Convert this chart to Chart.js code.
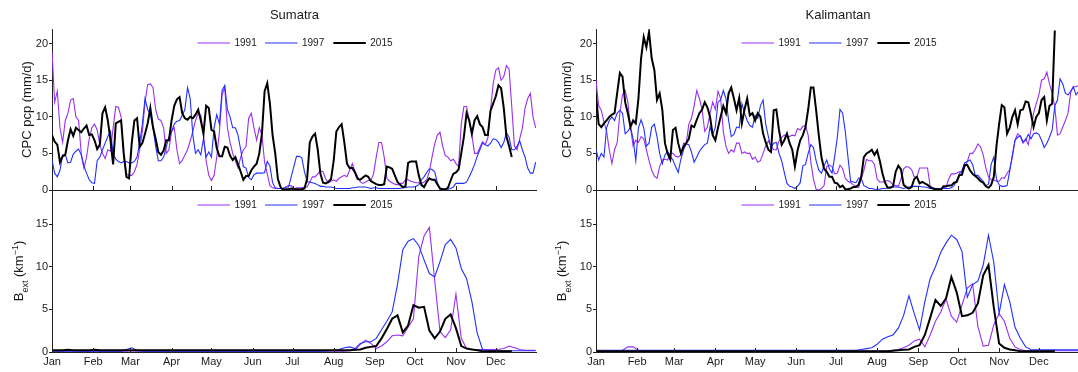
<!DOCTYPE html>
<html>
<head>
<meta charset="utf-8">
<script src="https://cdn.jsdelivr.net/npm/chart.js@4.4.1/dist/chart.umd.min.js"></script>
<style>
  body { margin: 0; background: #fff; width: 1078px; height: 372px; overflow: hidden; position: relative; }
  canvas { position: absolute; }
</style>
</head>
<body>
<canvas id="sumTop" width="537" height="200" style="left:0;top:0"></canvas>
<canvas id="kalTop" width="537" height="200" style="left:543px;top:0"></canvas>
<canvas id="sumBot" width="537" height="192" style="left:0;top:180px"></canvas>
<canvas id="kalBot" width="537" height="192" style="left:543px;top:180px"></canvas>
<script>
// day of year of the samples: precipitation every 2nd day, extinction every 4th day
const pcpDays = [0,2,4,6,8,10,12,14,16,18,20,22,24,26,28,30,32,34,36,38,
  40,42,44,46,48,50,52,54,56,58,60,62,64,66,68,70,72,74,76,78,
  80,82,84,86,88,90,92,94,96,98,100,102,104,106,108,110,112,114,116,118,
  120,122,124,126,128,130,132,134,136,138,140,142,144,146,148,150,152,154,156,158,
  160,162,164,166,168,170,172,174,176,178,180,182,184,186,188,190,192,194,196,198,
  200,202,204,206,208,210,212,214,216,218,220,222,224,226,228,230,232,234,236,238,
  240,242,244,246,248,250,252,254,256,258,260,262,264,266,268,270,272,274,276,278,
  280,282,284,286,288,290,292,294,296,298,300,302,304,306,308,310,312,314,316,318,
  320,322,324,326,328,330,332,334,336,338,340,342,344,346,348,350,352,354,356,358,
  360,362,364];
// 2015 record stops mid December
const pcpDays2015 = [0,2,4,6,8,10,12,14,16,18,20,22,24,26,28,30,32,34,36,38,
  40,42,44,46,48,50,52,54,56,58,60,62,64,66,68,70,72,74,76,78,
  80,82,84,86,88,90,92,94,96,98,100,102,104,106,108,110,112,114,116,118,
  120,122,124,126,128,130,132,134,136,138,140,142,144,146,148,150,152,154,156,158,
  160,162,164,166,168,170,172,174,176,178,180,182,184,186,188,190,192,194,196,198,
  200,202,204,206,208,210,212,214,216,218,220,222,224,226,228,230,232,234,236,238,
  240,242,244,246,248,250,252,254,256,258,260,262,264,266,268,270,272,274,276,278,
  280,282,284,286,288,290,292,294,296,298,300,302,304,306,308,310,312,314,316,318,
  320,322,324,326,328,330,332,334,336,338,340,342,344,346];
const bextDays = [0,4,8,12,16,20,24,28,32,36,40,44,48,52,56,60,64,68,72,76,80,84,88,92,96,100,104,108,112,116,120,124,128,132,136,140,144,148,152,156,160,164,168,172,176,180,184,188,192,196,200,204,208,212,216,220,224,228,232,236,240,244,248,252,256,260,264,268,272,276,280,284,288,292,296,300,304,308,312,316,320,324,328,332,336,340,344,348,352,356,360,364];
const bextDays2015 = [0,4,8,12,16,20,24,28,32,36,40,44,48,52,56,60,64,68,72,76,80,84,88,92,96,100,104,108,112,116,120,124,128,132,136,140,144,148,152,156,160,164,168,172,176,180,184,188,192,196,200,204,208,212,216,220,224,228,232,236,240,244,248,252,256,260,264,268,272,276,280,284,288,292,296,300,304,308,312,316,320,324,328,332,336,340,344,346];

const years = ['1991', '1997', '2015'];
const monthTicks = [0, 31, 59, 90, 120, 151, 181, 212, 243, 273, 304, 334];
const monthNames = ['Jan','Feb','Mar','Apr','May','Jun','Jul','Aug','Sep','Oct','Nov','Dec'];
const pcpTicks = [0, 5, 10, 15, 20];
const bextTicks = [0, 5, 10, 15];

// Sumatra, CPC precipitation (mm/d)
const sumPcp1991 = [19,12,13.5,8.5,6.5,9.5,10.5,12.3,12.5,10,
  9.5,5,3,4.5,7,8.5,9,8.2,6.2,5,
  4.3,5.5,5.3,8.5,11.4,11.3,10,4.5,2.2,2,
  2,2.5,3.5,5.5,8,12,14.4,14.5,14,11,
  9.7,9.5,8.5,5,5.5,8,8.5,5.5,3.6,4,
  4.8,5.5,6.7,8,9.5,10.5,10.2,7.5,4,2,
  1.3,2,4.5,8,13,14,8.5,6.5,5,4,
  3,4.5,5.5,5.9,9.8,10.5,8.5,6.8,8.5,7.5,
  3.8,2.2,0.6,0.3,0.2,0.2,0.2,0.2,0.4,0.6,
  0.6,0.2,0.3,0.3,0.3,0.4,0.4,1.1,1.8,1.8,
  2.2,2.6,2.5,1.5,1.0,1.2,1.4,1.2,1.6,1.8,
  2.0,1.8,2.7,3.6,2.6,1.8,1.1,0.9,1.1,1.3,
  1.3,2.2,4.5,6.5,6.5,4.5,1.6,1.2,1.0,0.8,
  0.7,0.9,0.9,1.4,1.4,1.2,1.1,1.0,1.0,0.9,
  1.1,1.4,2.5,4.5,6.3,7.5,7.9,6,4.7,4.5,
  4.0,4.2,3.6,3.2,9,11.4,11.4,9.5,7.5,5,
  5,5.8,6.6,6.2,7.1,10.9,14.5,16.4,16.7,15,
  15.5,17,16.5,11.4,6,5.5,7,8.5,11.2,12.5,
  13.2,10,8.5];
const sumPcp1997 = [4.1,2.3,1.8,2.7,4.8,4.8,3.7,3.8,4.9,5.3,
  5.6,4.8,3.3,2.3,1.4,1.0,0.9,4.0,4.5,5.5,
  6.4,7.3,8.0,5,4.2,3.9,3.7,3.9,3.9,3.7,
  3.7,3.9,4.5,6.4,9,12.5,11,10.4,8.5,6,
  4,4,4.5,5.9,7.2,8,9,9.4,9.5,10.2,
  11,14,12.5,7.5,5,5.5,4.8,7,4.5,5.2,
  4.5,8.5,10.3,9,13.6,14.3,11,10,8.5,8.5,
  7.5,5.5,3.2,3,1.7,1.4,2.1,2.3,2.3,2.3,
  2.4,3.9,3.3,1.0,0.3,0.2,0.2,0.2,0.4,0.4,
  1.8,3.2,4.6,4.6,4.4,2.5,1.1,1.1,1.0,0.9,
  0.7,0.5,0.5,0.4,0.4,0.4,0.3,0.2,0.2,0.2,
  0.2,0.2,0.2,0.3,0.3,0.4,0.4,0.4,0.4,0.3,
  0.2,0.3,0.3,0.2,0.2,0.2,0.2,0.2,0.2,0.2,
  0.2,0.2,0.3,0.3,0.4,0.4,0.4,0.5,0.7,1.4,
  1.8,2.4,2.9,2.8,2.5,1.0,0.1,0.1,0.1,0.1,
  0.2,0.4,0.9,0.9,0.9,0.9,1.1,1.8,2.6,3.5,
  4.6,5.5,6.4,6.2,6.0,6.4,7.0,6.9,6.5,5.8,
  6.5,7.8,7.2,5.5,5.5,6.0,6.7,5.5,4.5,3.0,
  2.3,2.3,3.8];
const sumPcp2015 = [7.5,6.6,6.2,3.8,4.6,4.8,6.8,8.3,7.4,8.5,
  8.2,7.9,8.4,8.8,7.5,7.6,6.8,5.6,6.2,10.5,
  11.3,9.5,6.8,3.5,9.1,9.3,9.5,5,1.8,1.6,
  6.4,9.5,9.8,5.9,6.4,7.7,9.1,11.2,8.6,7,
  5.2,4.8,5.4,6.8,6.8,9.5,11.5,12.4,12.7,10.5,
  9.8,9.6,10,9.8,10.3,11,9.5,7.7,11.5,11.2,
  8.2,8,5.7,4.6,4.6,5.9,5.8,4.7,4.1,4.5,
  3.5,2.5,1.4,1.9,1.9,2.7,3.2,3.6,5,7.7,
  13.5,14.6,11.8,7.5,5,1.5,0.4,0,0.1,0.1,
  0.2,0.1,0.1,0.1,0.1,0.2,1.5,6.5,7.3,7.7,
  5.5,2.2,1,0.9,1.1,1.5,4,8,8.6,9,
  6.5,3.6,3,3.0,2.4,1.5,1.4,1.7,2,1.8,
  1.2,1.0,0.8,0.7,0.7,0.8,3.2,3.1,2.9,2,
  1.1,0.7,0.4,0.5,3.7,3.9,3.9,3.9,2,0.7,
  0.4,1.1,1.6,1.4,1.4,0.8,0.2,0.1,0.1,0.3,
  1.3,2.2,2.4,2.8,5,7.3,10.5,9.5,7.7,9.5,
  10.1,9.0,8.6,7.5,7.5,10.8,11.8,12.8,14.3,13.9,
  11.2,7.3,6,4.5];

// Kalimantan, CPC precipitation (mm/d)
const kalPcp1991 = [15,11.5,10.9,9.3,8,5.5,3.6,5.5,6.5,10.5,
  13,13.6,12,8.6,6,6.8,6.5,7.3,7,5.5,
  4,2.7,1.9,1.6,3.2,4.1,4.2,4.1,5,5,
  4.6,4.5,4.8,6.4,6.3,9,9.8,11.5,13.6,12.5,
  11,8,8.6,10.5,12,11,13.5,12.5,8,6,
  5,5.5,5.2,6.4,6.4,5,5.2,5,5,4.2,
  4.5,3.8,4,5,6,6.7,6,5.5,5.5,6.7,
  7.2,7.5,7.4,7.3,7.5,7.4,8.4,8.2,8.7,8.8,
  7.5,3.8,1.5,0.1,0,0.2,0.6,3.2,3.4,3.2,
  2.2,2.3,3.4,2.9,1.6,1.2,1.0,0.7,0.5,0.3,
  1.5,2.7,4.2,4,4,3.5,1.5,1.1,1.1,1.2,
  1.3,1.1,0.7,0.6,0.5,1.5,2.9,3.2,3.1,2.8,
  1.8,1.8,3,3,3,3,0.5,0.3,0.2,0.1,
  0.1,0.3,0.4,1.5,2.2,2.2,2.3,2.5,2.4,3.1,
  3.9,5,5,5.5,6.3,5.9,4.8,3,1.8,1.4,
  1.4,1.2,1.2,1.7,1.6,2.3,2.8,4.5,6.8,7.7,
  7.3,6.4,7,6.2,8.2,10.5,11.8,13,15,15.2,
  16.1,14.5,13.2,11.4,7.5,7.7,8.6,9.5,10.5,13.4,
  14.1,14.1,14.3];
const kalPcp1997 = [5.5,4.1,5,4.5,8.5,9.5,10,9.5,10.5,10.9,
  10.5,7.7,8,8.6,7,4,8.5,9.6,8.5,6,
  6.4,8.6,9,7.3,5,3.6,4.8,5.3,4.6,4.1,
  3.2,2.4,4.2,5.5,6.3,6.2,5.2,3.8,4.5,5.3,
  5.8,6.2,6.4,8.6,7.5,8.6,12,12.3,13.6,12.5,
  9.5,7.3,7.6,8.6,8.5,11.8,10.5,9.5,8.8,8.6,
  10.2,9.8,11.5,12.3,9,7.3,5.8,6.4,6.5,5,
  4,2.4,0.9,0.5,0.4,0.2,0.5,1,3.3,3.5,
  5,6.2,5.8,4,2.7,2.3,3.3,4.1,2.9,2.3,
  4.6,7.2,11,10.5,8,4.5,1.2,1.1,1,1.6,
  1.6,0.6,0.4,0.2,0.2,0.1,0.1,0.1,0.2,0.2,
  0.3,0.4,0.4,0.4,0.4,0.3,0.2,0.3,0.4,0.5,
  0.5,0.5,0.5,0.4,0.4,0.3,0.2,0.2,0.2,0.2,
  0.2,0.2,0.2,0.2,0.3,0.6,1.3,2.2,2.7,3.7,
  3.9,4.1,3.5,2,2,1.6,1.2,0.6,0.8,3.5,
  4.5,1.5,0.7,0.5,0.5,0.6,2.6,4.8,6.8,7.2,
  7.4,6.6,6.8,7.6,7,7.7,7.8,7.6,6.8,5.8,
  6.4,7.2,8.2,11.5,12.3,15.2,14.5,13.2,13,13.5,
  14.1,13,13.5];
const kalPcp2015 = [13,9,8.6,9.1,9.5,10,10.3,10.5,13.3,16,
  15.5,12,10.5,8.6,9.5,9.1,12.5,18,20.9,19.5,
  21.6,18,16.4,12.3,13.2,11,6.4,5,4.2,8.2,
  8.5,6.4,5,5.9,6.4,7,8.8,8.6,9.6,10.5,
  11,12,11.3,10,7.5,6.8,8.5,10,11.5,10.5,
  13.2,14,12.5,10.9,12.6,9.1,11,12.5,10.2,10.5,
  9.5,10.5,10,7.7,6.5,5.5,5.2,10.9,11,8.2,
  6.2,6.8,7.7,6.4,5.5,3.2,5.4,6.8,7.5,8.6,
  11,14,14,10.9,7.5,4.5,2.9,2.5,1.8,1.8,
  1.0,0.9,0.4,0.6,0.1,0.1,0.2,0.4,0.4,0.7,
  1.8,4.5,5,5.2,5.5,4.8,5.4,4,2.3,1.0,
  0.3,0.3,0.5,2.5,3.3,2.8,0.7,0.4,0.2,0.4,
  1.5,1.8,0.9,1.1,0.9,0.7,0.4,0.2,0.1,0.1,
  0.0,0.5,0.5,0.6,0.6,1.0,1.1,2.0,2.1,3.4,
  3.4,2.7,2.2,1.9,1.6,1.2,1,0.5,0.3,0.7,
  1.8,6,9,11.6,11.3,7.7,8.5,10,10.9,9,
  10.9,11,12.1,12,10.4,8.6,10,10.5,12.3,12.7,
  9.5,11.5,11.8,21.8];

// Sumatra, B_ext (km^-1)
const sumBext1991 = [0.1,0.1,0.1,0.1,0.15,0.1,0.1,0.1,0.1,0.1,
  0.1,0.1,0.1,0.1,0.1,0.15,0.1,0.1,0.1,0.1,
  0.1,0.1,0.1,0.1,0.1,0.1,0.1,0.1,0.1,0.1,
  0.1,0.1,0.1,0.1,0.1,0.1,0.05,0.05,0.1,0.1,
  0.1,0.1,0.1,0.1,0.1,0.1,0.1,0.1,0.1,0.1,
  0.1,0.1,0.1,0.1,0.1,0.1,0.15,0.2,0.9,1.4,
  1.0,0.4,0.7,1.2,1.9,2.0,1.9,2.9,3.9,11.2,
  13.6,14.6,8.4,2.4,1.7,2.6,6.8,1.6,0.4,0.3,
  0.3,0.3,0.3,0.3,0.3,0.4,0.7,0.5,0.3,0.2,
  0.2,0.2];
const sumBext1997 = [0.1,0.1,0.1,0.1,0.1,0.1,0.1,0.1,0.1,0.1,
  0.1,0.1,0.1,0.1,0.3,0.5,0.2,0.1,0.1,0.1,
  0.1,0.1,0.1,0.1,0.1,0.1,0.1,0.1,0.1,0.1,
  0.1,0.1,0.1,0.1,0.1,0.1,0.1,0.1,0.1,0.1,
  0.1,0.1,0.1,0.1,0.1,0.1,0.1,0.1,0.1,0.1,
  0.1,0.1,0.15,0.2,0.3,0.5,0.6,0.4,1.0,1.2,
  1.2,1.6,2.6,3.6,4.7,7.9,12.0,13.0,13.3,12.5,
  10.8,9.2,8.8,10.6,12.6,13.2,12.2,9.8,8.6,5.9,
  2.2,0.3,0.2,0.15,0.15,0.15,0.15,0.15,0.15,0.15,
  0.15,0.15];
const sumBext2015 = [0.2,0.2,0.2,0.25,0.2,0.2,0.2,0.2,0.25,0.2,
  0.2,0.2,0.2,0.2,0.2,0.2,0.2,0.2,0.2,0.2,
  0.2,0.2,0.2,0.2,0.2,0.2,0.2,0.2,0.2,0.2,
  0.2,0.2,0.2,0.2,0.2,0.2,0.2,0.2,0.2,0.2,
  0.2,0.2,0.2,0.2,0.2,0.2,0.2,0.2,0.2,0.2,
  0.2,0.2,0.2,0.2,0.2,0.2,0.2,0.25,0.3,0.5,
  0.6,0.7,1.6,2.7,3.9,4.3,2.3,3.1,5.5,5.2,
  5.3,2.5,1.6,2.4,3.9,4.4,2.8,0.7,0.4,0.3,
  0.2,0.1,0.1,0.1,0.1,0.1,0.1,0.1];

// Kalimantan, B_ext (km^-1)
const kalBext1991 = [0.1,0.1,0.1,0.1,0.1,0.2,0.6,0.6,0.2,0.1,
  0.1,0.1,0.1,0.1,0.1,0.1,0.1,0.1,0.1,0.1,
  0.1,0.1,0.1,0.1,0.1,0.1,0.1,0.1,0.1,0.1,
  0.1,0.1,0.1,0.1,0.1,0.1,0.1,0.1,0.1,0.1,
  0.1,0.1,0.1,0.1,0.1,0.1,0.1,0.1,0.1,0.1,
  0.1,0.1,0.1,0.1,0.1,0.1,0.2,0.3,0.5,0.8,
  1.3,1.5,0.6,2.0,3.6,4.7,6.2,4.2,3.5,5.5,
  7.5,8.0,3.0,0.7,0.8,3.2,4.5,3.6,1.6,0.6,
  0.3,0.15,0.15,0.15,0.15,0.15,0.15,0.15,0.15,0.15,
  0.15,0.15];
const kalBext1997 = [0.2,0.2,0.2,0.2,0.2,0.2,0.2,0.2,0.2,0.2,
  0.2,0.2,0.2,0.2,0.2,0.2,0.2,0.2,0.2,0.2,
  0.2,0.2,0.2,0.2,0.2,0.2,0.2,0.2,0.2,0.2,
  0.2,0.2,0.2,0.2,0.2,0.2,0.2,0.2,0.2,0.2,
  0.2,0.2,0.2,0.2,0.2,0.2,0.2,0.2,0.2,0.2,
  0.3,0.4,0.5,0.9,1.5,1.8,2.0,2.8,4.3,6.6,
  4.5,2.6,5.9,8.6,10.0,11.7,12.8,13.7,13.2,11.8,
  6.4,7.9,8.3,10.2,13.7,10.5,4.5,7.9,5.9,2.9,
  1.6,0.6,0.3,0.25,0.25,0.25,0.25,0.25,0.25,0.25,
  0.25,0.25];
const kalBext2015 = [0.1,0.1,0.1,0.1,0.1,0.1,0.1,0.1,0.1,0.1,
  0.1,0.1,0.1,0.1,0.1,0.1,0.1,0.1,0.1,0.1,
  0.1,0.1,0.1,0.1,0.1,0.1,0.1,0.1,0.1,0.1,
  0.1,0.1,0.1,0.1,0.1,0.1,0.1,0.1,0.1,0.1,
  0.1,0.1,0.1,0.1,0.1,0.1,0.1,0.1,0.1,0.1,
  0.1,0.1,0.1,0.1,0.1,0.1,0.15,0.2,0.25,0.3,
  0.6,0.8,2.0,4.0,6.1,5.4,6.3,8.8,7.0,4.2,
  4.3,4.6,5.7,9.0,10.2,5.2,1.0,0.5,0.3,0.2,
  0.1,0.1,0.1,0.1,0.1,0.1,0.1,0.1];

const fam = "'Liberation Sans', Arial, Helvetica, sans-serif";
Chart.defaults.font.family = fam;
Chart.defaults.color = '#1a1a1a';

const lineColors = ['#9a2ff5', '#2030ff', '#000000'];
const lineWidths = [1.1, 1.1, 2];
const legendOffsets = [145.5, 213, 281.3];

// titles, legends, axis labels and the inward month ticks
const decor = {
  id: 'decor',
  afterDraw(chart, args, o) {
    const ctx = chart.ctx, a = chart.chartArea, xs = chart.scales.x;
    ctx.save();
    ctx.strokeStyle = '#222';
    ctx.lineWidth = 1;
    ctx.beginPath();
    monthTicks.forEach(v => {
      const px = Math.round(xs.getPixelForValue(v)) + 0.5;
      ctx.moveTo(px, a.bottom);
      ctx.lineTo(px, a.bottom - 4);
    });
    ctx.stroke();

    // legend
    ctx.font = '10px ' + fam;
    ctx.textBaseline = 'middle';
    ctx.textAlign = 'left';
    ctx.fillStyle = '#1a1a1a';
    chart.data.datasets.forEach((ds, i) => {
      const x0 = a.left + legendOffsets[i];
      ctx.strokeStyle = ds.borderColor;
      ctx.lineWidth = ds.borderWidth;
      ctx.beginPath();
      ctx.moveTo(x0, o.legendY);
      ctx.lineTo(x0 + 32.5, o.legendY);
      ctx.stroke();
      ctx.fillText(ds.label, x0 + 37, o.legendY + 0.5);
    });

    if (o.title) {
      ctx.font = '13px ' + fam;
      ctx.textAlign = 'center';
      ctx.fillText(o.title, (a.left + a.right) / 2, 15.5);
    }

    // y axis label
    const cy = (a.top + a.bottom) / 2;
    ctx.translate(o.labelX, cy);
    ctx.rotate(-Math.PI / 2);
    ctx.textBaseline = 'alphabetic';
    if (o.label === 'pcp') {
      ctx.font = '13px ' + fam;
      ctx.textAlign = 'center';
      ctx.fillText('CPC pcp (mm/d)', 0, 0);
    } else {
      const parts = [['B', 13, 0], ['ext', 9, 4.5], [' (km', 13, 0], ['\u22121', 9, -5], [')', 13, 0]];
      ctx.textAlign = 'left';
      let total = 0;
      parts.forEach(p => { ctx.font = p[1] + 'px ' + fam; total += ctx.measureText(p[0]).width; });
      let x = -total / 2;
      parts.forEach(p => {
        ctx.font = p[1] + 'px ' + fam;
        ctx.fillText(p[0], x, p[2]);
        x += ctx.measureText(p[0]).width;
      });
    }
    ctx.restore();
  }
};

function points(xs, ys) {
  return ys.map((v, i) => ({ x: xs[i], y: v }));
}

function makePanel(id, series, dayLists, cfg) {
  new Chart(document.getElementById(id), {
    type: 'line',
    data: {
      datasets: series.map((vals, i) => ({
        label: years[i],
        data: points(dayLists[i], vals),
        borderColor: lineColors[i],
        borderWidth: lineWidths[i],
        pointRadius: 0,
        tension: 0,
        fill: false,
        order: 3 - i
      }))
    },
    options: {
      responsive: false,
      animation: false,
      devicePixelRatio: 1,
      events: [],
      layout: { padding: { top: cfg.padTop, left: 0, right: 0, bottom: 0 } },
      plugins: { legend: { display: false }, tooltip: { enabled: false }, decor: cfg },
      scales: {
        x: {
          type: 'linear', min: 0, max: 365,
          grid: { display: false, drawTicks: false },
          border: { display: true, color: '#222', width: 1 },
          afterBuildTicks: s => { s.ticks = monthTicks.map(v => ({ value: v })); },
          afterFit: s => { s.height = cfg.xHeight; },
          ticks: {
            display: cfg.showMonths, autoSkip: false, maxRotation: 0, minRotation: 0,
            padding: 3, font: { size: 11 }, color: '#1a1a1a',
            callback: v => monthNames[monthTicks.indexOf(v)]
          }
        },
        y: {
          min: 0, max: cfg.yMax,
          grid: { drawOnChartArea: false, drawTicks: true, tickLength: 3, color: '#222' },
          border: { color: '#222', width: 1 },
          afterBuildTicks: s => { s.ticks = cfg.yTicks.map(v => ({ value: v })); },
          afterFit: s => { s.width = cfg.yWidth; },
          ticks: { padding: 1, font: { size: 11 }, color: '#1a1a1a' }
        }
      }
    },
    plugins: [decor]
  });
}

const pcpDayLists = [pcpDays, pcpDays, pcpDays2015];
const bextDayLists = [bextDays, bextDays, bextDays2015];

makePanel('sumTop', [sumPcp1991, sumPcp1997, sumPcp2015], pcpDayLists, {
  title: 'Sumatra', label: 'pcp', labelX: 30.5, legendY: 43,
  padTop: 29, xHeight: 10, showMonths: false, yMax: 22, yTicks: pcpTicks, yWidth: 52
});
makePanel('kalTop', [kalPcp1991, kalPcp1997, kalPcp2015], pcpDayLists, {
  title: 'Kalimantan', label: 'pcp', labelX: 27.5, legendY: 43,
  padTop: 29, xHeight: 10, showMonths: false, yMax: 22, yTicks: pcpTicks, yWidth: 53
});
makePanel('sumBot', [sumBext1991, sumBext1997, sumBext2015], bextDayLists, {
  title: '', label: 'bext', labelX: 23, legendY: 25,
  padTop: 10, xHeight: 20, showMonths: true, yMax: 19, yTicks: bextTicks, yWidth: 52
});
makePanel('kalBot', [kalBext1991, kalBext1997, kalBext2015], bextDayLists, {
  title: '', label: 'bext', labelX: 23.4, legendY: 25,
  padTop: 10, xHeight: 20, showMonths: true, yMax: 19, yTicks: bextTicks, yWidth: 53
});
</script>
</body>
</html>
